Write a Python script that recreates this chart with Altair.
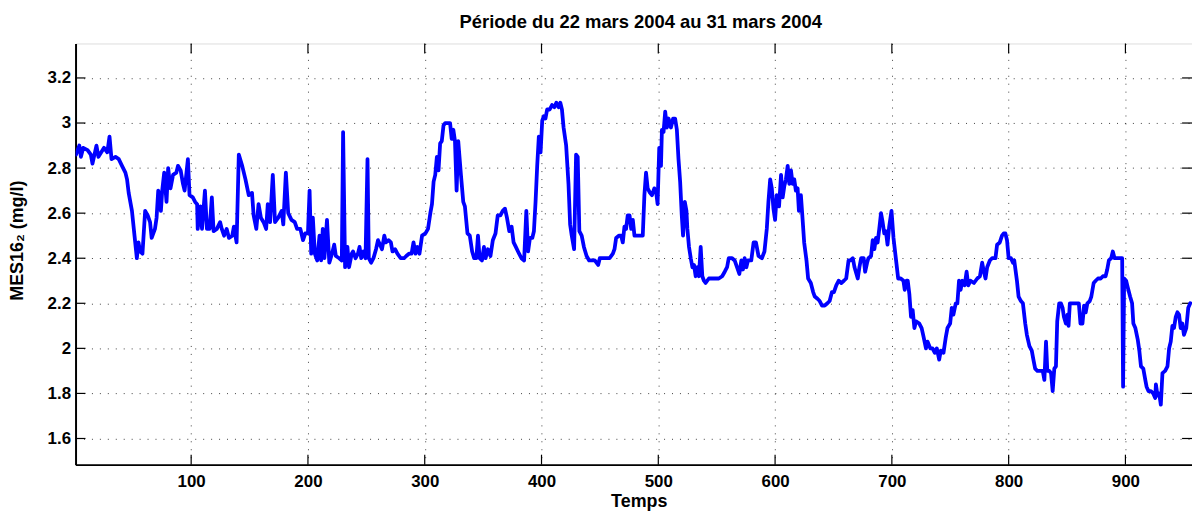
import altair as alt
import pandas as pd

# ---- data ----
x_ticks = [100, 200, 300, 400, 500, 600, 700, 800, 900]
y_ticks = [1.6, 1.8, 2.0, 2.2, 2.4, 2.6, 2.8, 3.0, 3.2]

t_a = [1.4,4.2,5.6,7.6,11.3,14.1,15.5,18.9,20.6,25.4,28.2,30.1,31.8,35.2,38.0,40.8,43.7,45.1,46.5,49.3,
       51.5,53.5,54.9,56.3,58.3,60.6,62.8,64.8,66.2,69.0,70.4,71.8,74.1,75.2,76.9,78.9,80.3,82.3,84.5,87.3,
       88.7,91.0,93.0,94.4,97.2,98.6,101.4,103.4,105.1,105.6,107.9,109.3,111.8,113.5,115.8,117.7,119.2,122.0,124.8,126.2,
       128.2,130.4,132.4,135.2,136.6,138.9,140.8,143.7,146.5,149.3,152.1,153.5,155.8,157.7,159.7,162.0,164.2,165.6,167.6,169.9,
       171.8,174.6,177.5,178.9,181.1,183.1,185.9,188.7,190.7,193.5,195.8,197.7,200.0,201.4,202.8,204.2,205.9,207.9,209.9,211.3,
       212.7,214.1,216.3,218.3,220.6,222.5,223.9,226.8,229.0,230.1,231.8,233.8,235.2,237.5]
v_a = [2.86,2.90,2.85,2.89,2.88,2.86,2.82,2.90,2.85,2.89,2.87,2.94,2.84,2.85,2.84,2.81,2.78,2.75,2.69,2.61,
       2.50,2.40,2.47,2.43,2.42,2.61,2.59,2.56,2.49,2.53,2.58,2.70,2.61,2.70,2.78,2.65,2.80,2.71,2.77,2.78,
       2.81,2.79,2.73,2.70,2.84,2.68,2.67,2.65,2.64,2.53,2.63,2.53,2.70,2.53,2.53,2.67,2.52,2.53,2.56,2.53,
       2.50,2.53,2.49,2.50,2.54,2.47,2.86,2.81,2.75,2.68,2.69,2.59,2.53,2.64,2.58,2.56,2.53,2.64,2.56,2.77,
       2.56,2.58,2.61,2.55,2.78,2.60,2.57,2.56,2.53,2.53,2.48,2.51,2.51,2.70,2.42,2.58,2.42,2.39,2.50,2.39,
       2.53,2.40,2.57,2.38,2.42,2.46,2.41,2.40,2.39,2.96,2.36,2.45,2.36,2.42]

t_b = [238.6,240.8,242.8,244.2,245.6,247.6,249.3,251.0,252.1,254.1,256.1,258.3,260.0,261.7,263.4,265.4,266.8,269.0,271.0,272.4,
       274.6,276.6,279.4,282.3,284.2,286.5,288.7,290.4,292.1,293.8,295.5,297.7,300.6,302.8,304.8,306.2,307.6,309.0,310.4,311.8,
       313.2,314.6,316.1,317.5,320.3,321.7,323.1,324.5,325.9,327.3,328.7,331.0,333.0,334.4,336.6,338.6,340.6,342.3,344.2,345.6,
       347.0,349.0,350.7,352.1,354.1,356.3,358.3,360.6,362.5,364.8,366.8,368.7,370.4,372.4,374.4,376.1,378.0,380.8,382.8,385.1,
       387.0,388.5,390.1,392.1,393.5,394.9,396.3,397.7,399.2,400.6,402.0,403.4,404.8,407.0,409.0,411.0,412.7,414.6,416.1,417.5,
       418.9,421.1,423.1,424.5,425.9,427.9,429.6,431.0,432.4,434.4,436.3,438.6,440.8,442.8,445.6,448.5,449.9,454.1,458.3,461.1,
       462.5,463.9,466.2,468.2,469.6,471.0,472.4,473.8]
v_b = [2.43,2.40,2.42,2.45,2.40,2.43,2.40,2.84,2.40,2.38,2.40,2.44,2.48,2.46,2.44,2.50,2.47,2.48,2.47,2.43,
       2.44,2.42,2.40,2.40,2.41,2.42,2.42,2.47,2.42,2.45,2.42,2.50,2.51,2.53,2.60,2.64,2.74,2.77,2.85,2.79,
       2.91,2.92,2.99,3.00,3.00,3.00,2.93,2.97,2.92,2.70,2.92,2.77,2.65,2.63,2.51,2.50,2.43,2.40,2.40,2.50,
       2.40,2.39,2.45,2.40,2.44,2.41,2.48,2.51,2.59,2.59,2.61,2.62,2.58,2.52,2.54,2.47,2.45,2.42,2.40,2.39,
       2.61,2.43,2.49,2.49,2.52,2.65,2.81,2.94,2.87,3.01,3.03,3.02,3.06,3.06,3.08,3.07,3.09,3.07,3.09,3.06,
       2.98,2.90,2.73,2.55,2.50,2.44,2.86,2.85,2.52,2.50,2.45,2.41,2.39,2.39,2.39,2.37,2.40,2.40,2.40,2.42,
       2.44,2.49,2.50,2.50,2.47,2.54,2.53,2.59]

t_c = [475.4,476.8,478.2,479.6,482.4,485.3,486.7,488.1,489.5,490.9,492.9,494.6,496.6,498.0,499.4,500.8,502.3,503.1,504.5,505.9,
       507.4,508.8,510.8,512.7,514.4,515.9,517.3,518.7,520.1,521.2,522.7,524.1,524.9,526.3,527.8,529.2,530.6,532.0,533.4,534.8,
       536.3,537.7,539.1,540.5,543.3,546.2,549.0,551.8,554.7,556.9,558.9,560.3,563.2,565.4,567.4,569.4,571.1,572.5,573.9,575.4,
       576.8,579.6,581.6,583.6,585.8,588.7,590.9,592.9,594.3,595.8,597.2,598.6,600.0,601.4,603.4,605.1,606.5,607.9,609.3,610.8,
       612.2,613.6,615.0,616.4,617.8,619.3,620.4,622.1,623.2,624.9,626.9,628.3,630.6,632.6,634.0,636.3,638.2,640.2,642.5,644.8,
       646.7,648.7,650.4,652.4,654.4,656.7,658.9,660.9,662.9,664.6,666.6,668.0,670.8,672.2,673.7,675.9,677.1,678.8,679.9,682.2,
       683.6,685.0,686.4,687.8,689.2,690.7,692.1,693.5,694.9,696.3,697.7,699.7,701.4,703.4,705.4,707.6,709.9,711.0,712.7]
v_c = [2.59,2.53,2.57,2.50,2.50,2.50,2.50,2.68,2.78,2.71,2.69,2.68,2.71,2.70,2.64,2.89,2.81,2.97,2.96,3.05,
       2.98,3.02,2.98,3.02,3.02,2.97,2.84,2.74,2.59,2.50,2.65,2.61,2.53,2.45,2.40,2.36,2.37,2.32,2.36,2.32,
       2.45,2.32,2.30,2.29,2.31,2.31,2.31,2.31,2.32,2.34,2.36,2.40,2.40,2.39,2.36,2.33,2.39,2.35,2.40,2.36,
       2.39,2.39,2.47,2.47,2.41,2.40,2.43,2.53,2.65,2.75,2.71,2.62,2.57,2.68,2.63,2.77,2.67,2.72,2.75,2.81,
       2.73,2.79,2.73,2.75,2.70,2.71,2.61,2.68,2.60,2.47,2.39,2.31,2.29,2.25,2.23,2.22,2.21,2.19,2.19,2.20,
       2.21,2.25,2.25,2.28,2.30,2.29,2.30,2.31,2.39,2.39,2.40,2.36,2.31,2.36,2.40,2.40,2.34,2.38,2.40,2.41,
       2.48,2.44,2.49,2.47,2.53,2.60,2.56,2.51,2.52,2.46,2.54,2.61,2.49,2.40,2.31,2.31,2.30,2.26,2.30]

t_d = [713.6,715.0,716.4,717.8,719.3,720.7,723.5,725.5,727.2,729.2,730.6,732.9,734.8,736.8,738.5,740.5,741.9,744.2,746.2,747.6,
       749.9,751.3,752.7,754.7,756.1,757.5,758.9,760.3,762.3,764.0,765.4,767.4,770.3,773.1,775.4,777.3,778.8,780.2,781.6,783.9,
       785.8,788.7,790.1,792.4,794.3,795.8,797.2,798.6,800.0,802.0,803.7,804.8,807.1,808.5,810.5,812.2,814.2,815.6,817.8,819.8,
       821.2,822.7,824.6,826.9,829.2,830.6,832.0,833.1,834.8,836.3,837.7,839.1,840.5,841.6,843.3,844.8,846.2,847.3,849.0,850.4,
       851.3,852.4,855.2,858.1,860.1,861.5,863.2,864.6,866.0,867.4,869.4,870.8,872.8,874.5,876.5,878.8,880.7,883.0,884.4,885.8,
       887.8,889.2,890.7,892.6,894.9,897.2,898.0,898.9,900.6,902.0,904.0,905.7,906.8,908.5,910.5,911.9,913.3,915.3,917.0,918.1,
       919.8,921.8,923.8,925.5,926.1,927.5,928.9,930.3,931.7,934.0,936.0,937.4,938.8,940.2,941.6,943.1,944.5,945.9,947.3,948.7,
       950.1,952.1,953.8,955.5]
v_d = [2.30,2.24,2.14,2.17,2.09,2.12,2.11,2.09,2.05,2.00,2.03,2.00,2.00,1.98,2.00,1.95,1.99,1.98,2.05,2.09,
       2.11,2.18,2.15,2.20,2.20,2.30,2.26,2.30,2.28,2.34,2.28,2.30,2.29,2.31,2.32,2.38,2.34,2.31,2.36,2.39,
       2.40,2.40,2.46,2.47,2.50,2.51,2.51,2.48,2.40,2.40,2.38,2.39,2.30,2.23,2.21,2.20,2.11,2.06,2.01,1.99,
       1.95,1.91,1.90,1.90,1.90,1.86,2.03,1.90,1.90,1.89,1.81,1.91,1.92,2.12,2.20,2.20,2.18,2.14,2.11,2.15,
       2.10,2.20,2.20,2.20,2.20,2.11,2.11,2.19,2.16,2.20,2.21,2.23,2.29,2.30,2.31,2.31,2.32,2.32,2.35,2.39,
       2.40,2.43,2.40,2.40,2.40,2.40,1.83,2.31,2.30,2.27,2.23,2.20,2.11,2.09,2.04,1.99,1.92,1.91,1.86,1.83,
       1.81,1.81,1.80,1.78,1.84,1.79,1.80,1.75,1.89,1.90,1.92,2.00,2.03,2.10,2.09,2.14,2.16,2.15,2.09,2.11,
       2.06,2.09,2.18,2.20]

title_text = "Période du 22 mars 2004 au 31 mars 2004"
x_title = "Temps"
y_title = "MES16\u2082 (mg/l)"

# ---- build tables ----
segs = [(t_a, v_a), (t_b, v_b), (t_c, v_c), (t_d, v_d)]
df = pd.concat([pd.DataFrame({"t": t, "v": v}) for t, v in segs], ignore_index=True)
xt = pd.DataFrame({"t": x_ticks})
yt = pd.DataFrame({"v": y_ticks})

W, H = 1124, 424
FONT = "Liberation Sans"

xscale = alt.Scale(domain=[1, 957], nice=False, zero=False)
yscale = alt.Scale(domain=[1.484, 3.353], nice=False, zero=False)

line = alt.Chart(df).mark_line(color="#0000ff", strokeWidth=3.8, clip=True,
                               strokeJoin="round", strokeCap="round").encode(
    x=alt.X("t:Q", scale=xscale, axis=alt.Axis(
        values=x_ticks, title=x_title, grid=True, ticks=False,
        domain=True, domainColor="black", domainWidth=2,
        labelFont=FONT, labelFontSize=17, labelFontWeight="bold", labelColor="black",
        labelPadding=9, gridColor="#000000", gridOpacity=0.75, gridDash=[1, 7], gridWidth=1,
        titleFont=FONT, titleFontSize=18, titleFontWeight="bold", titleColor="black",
        titleX=567, titleY=37, titleBaseline="middle", titleAlign="center")),
    y=alt.Y("v:Q", scale=yscale, axis=alt.Axis(
        values=y_ticks, format="~g", title=y_title, grid=True, ticks=False,
        domain=True, domainColor="black", domainWidth=2,
        labelFont=FONT, labelFontSize=17, labelFontWeight="bold", labelColor="black",
        labelPadding=5, gridColor="#000000", gridOpacity=0.75, gridDash=[1, 7], gridWidth=1,
        titleFont=FONT, titleFontSize=18, titleFontWeight="bold", titleColor="black",
        titleX=-58, titleY=198, titleBaseline="middle", titleAlign="center", titleAngle=270)),
)

tick_style = dict(color="black", strokeWidth=1.2)
xb = alt.Chart(xt).mark_rule(**tick_style).encode(x="t:Q", y=alt.value(H), y2=alt.value(H - 10))
xtop = alt.Chart(xt).mark_rule(**tick_style).encode(x="t:Q", y=alt.value(0), y2=alt.value(10))
yl = alt.Chart(yt).mark_rule(**tick_style).encode(y="v:Q", x=alt.value(0), x2=alt.value(10))
yr = alt.Chart(yt).mark_rule(**tick_style).encode(y="v:Q", x=alt.value(W), x2=alt.value(W - 10))

chart = alt.layer(xb, xtop, yl, yr, line).properties(
    width=W, height=H,
    title=alt.TitleParams(title_text, font=FONT, fontSize=18.5, fontWeight="bold",
                          color="black", anchor="middle", baseline="middle", offset=2, dx=7),
    autosize=alt.AutoSizeParams(type="none"),
    padding={"left": 68, "top": 34, "right": 0, "bottom": 50},
).configure_view(stroke="black", strokeWidth=2).configure(background="white")

chart.save("out.html", embed_options={"renderer": "svg", "actions": False})
